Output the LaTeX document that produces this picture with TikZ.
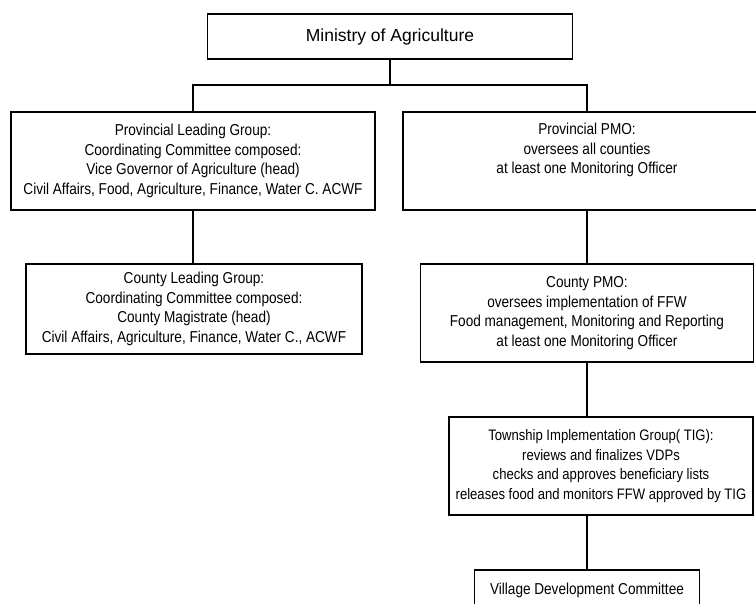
\documentclass[tikz,border=0pt]{standalone}
\usepackage{fontspec}
\setmainfont{Liberation Sans}
\newfontfamily\boxfont[FakeStretch=0.86]{Liberation Sans}
\usetikzlibrary{positioning}

\tikzset{
    orgbox/.style={draw, line width=1.8pt, align=center, inner sep=1pt,
        font=\boxfont\fontsize{15.8}{19.5}\selectfont},
    link/.style={line width=1.8pt}
}

\begin{document}
\begin{tikzpicture}[x=1pt,y=-1pt]
    \def\W{756} % picture width
    \def\H{604} % picture height
    \def\bus{85} % height of the top branching line

    \clip (0,0) rectangle (\W,\H);

    % Ministry
    \node[orgbox, minimum width=365pt, minimum height=45pt,
          font=\fontsize{17.5}{21}\selectfont] (min) at (390,36.5) {Ministry of Agriculture};

    % Provincial level
    \node[orgbox, minimum width=364pt, minimum height=98pt] (plg) at (193,161)
        {Provincial Leading Group:\\Coordinating Committee composed:\\Vice Governor of Agriculture (head)\\Civil Affairs, Food, Agriculture, Finance, Water C. ACWF};
    \node[orgbox, minimum width=368pt, minimum height=98pt] (ppmo) at (587,161)
        {Provincial PMO:\\oversees all counties\\at least one Monitoring Officer\\ \strut};

    % County level
    \node[orgbox, minimum width=336pt, minimum height=90pt] (clg) at (194,309)
        {County Leading Group:\\Coordinating Committee composed:\\County Magistrate (head)\\Civil Affairs, Agriculture, Finance, Water C., ACWF};
    \node[orgbox, minimum width=333pt, minimum height=98pt] (cpmo) at (587,313)
        {County PMO:\\oversees implementation of FFW\\Food management, Monitoring and Reporting\\at least one Monitoring Officer};

    % Township and village
    \node[orgbox, minimum width=304pt, minimum height=98pt,
          font=\boxfont\fontsize{15.2}{19.5}\selectfont] (tig) at (601,466)
        {Township Implementation Group( TIG):\\reviews and finalizes VDPs\\checks and approves beneficiary lists\\releases food and monitors FFW approved by TIG};
    \node[orgbox, minimum width=225pt, minimum height=40pt] (vdc) at (587,590)
        {Village Development Committee};

    % connectors
    \coordinate (busL) at (plg.north |- 0,\bus);
    \coordinate (busR) at (ppmo.north |- 0,\bus);
    \draw[link] (min.south) -- (min.south |- busL);
    \draw[link] (plg.north) -- (busL) -- (busR) -- (ppmo.north);
    \draw[link] (plg.south) -- (plg.south |- clg.north);
    \draw[link] (ppmo.south) -- (ppmo.south |- cpmo.north);
    \draw[link] (cpmo.south) -- (cpmo.south |- tig.north);
    \draw[link] (vdc.north |- tig.south) -- (vdc.north);
\end{tikzpicture}
\end{document}
